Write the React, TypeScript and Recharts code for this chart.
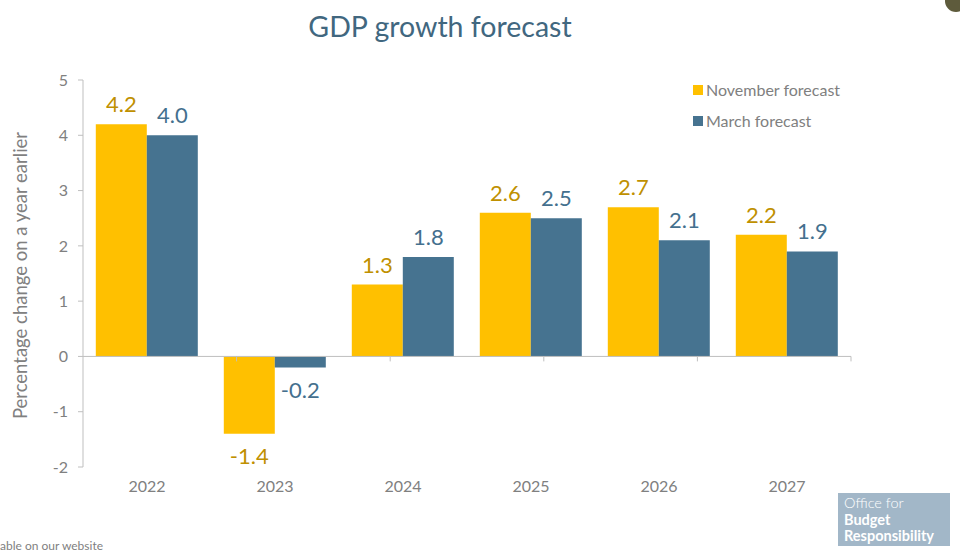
import React from "react";
import {
  BarChart, Bar, XAxis, YAxis, LabelList, ReferenceLine,
} from "recharts";

const years = ["2022", "2023", "2024", "2025", "2026", "2027"];
const novemberForecast = [4.2, -1.4, 1.3, 2.6, 2.7, 2.2];
const marchForecast = [4.0, -0.2, 1.8, 2.5, 2.1, 1.9];
const yTicks = [-2, -1, 0, 1, 2, 3, 4, 5];
const categoryEdges = [1, 2, 3, 4, 5, 6];

const data = years.map((year, i) => ({
  year,
  november: novemberForecast[i],
  march: marchForecast[i],
}));

const YELLOW = "#FFC000";
const YELLOW_TEXT = "#BF9000";
const BLUE = "#467390";
const BLUE_TEXT = "#44708E";
const AXIS = "#BFBFBF";
const GREY_TEXT = "#808080";
const FONT = "Lato, 'Open Sans', sans-serif";

const legendItems = [
  { label: "November forecast", color: YELLOW },
  { label: "March forecast", color: BLUE },
];

// value label above positive bars, below negative ones
const valueLabel = (color: string) => (props: any) => {
  const { x, y, width, height, value } = props;
  const top = Math.min(y, y + height);
  const bottom = Math.max(y, y + height);
  const neg = Number(value) < 0;
  return (
    <text
      x={x + width / 2}
      y={neg ? bottom + 13 : top - 12}
      dominantBaseline={neg ? "hanging" : "alphabetic"}
      textAnchor="middle"
      fill={color}
      fontSize={22}
      fontFamily={FONT}
    >
      {Number(value).toFixed(1)}
    </text>
  );
};

export default function App() {
  return (
    <div style={{ position: "absolute", left: 0, top: 0, width: 960, height: 555, background: "#fff", overflow: "hidden", fontFamily: FONT }}>
      <div style={{ position: "absolute", left: 0, width: 880, top: 9, textAlign: "center", fontSize: 28.5, color: "#41677F" }}>
        GDP growth forecast
      </div>
      <div style={{ position: "absolute", left: 945, top: -10, width: 22, height: 22, borderRadius: 11, background: "#5E5B3C" }} />

      <BarChart
        width={960}
        height={555}
        data={data}
        margin={{ top: 80, right: 109, left: 0, bottom: 48 }}
        barCategoryGap="10%"
        barGap={0}
      >
        <XAxis
          dataKey="year"
          axisLine={false}
          tickLine={false}
          tickSize={0}
          tickMargin={14}
          height={40}
          tick={{ fill: GREY_TEXT, fontSize: 16, fontFamily: FONT }}
        />
        <XAxis xAxisId="edges" type="number" domain={[0, 6]} hide />
        <YAxis
          domain={[-2, 5]}
          ticks={yTicks}
          width={83}
          axisLine={{ stroke: AXIS }}
          tickLine={{ stroke: AXIS }}
          tickSize={5}
          tickMargin={10}
          tick={{ fill: GREY_TEXT, fontSize: 16, fontFamily: FONT }}
          label={({ viewBox }: any) => (
            <text
              x={20}
              y={viewBox.y + viewBox.height / 2 + 2}
              transform={`rotate(-90, 20, ${viewBox.y + viewBox.height / 2 + 2})`}
              textAnchor="middle"
              dominantBaseline="central"
              fill={GREY_TEXT}
              fontSize={18.5}
              fontFamily={FONT}
            >
              Percentage change on a year earlier
            </text>
          )}
        />
        <ReferenceLine y={0} stroke={AXIS} />
        {categoryEdges.map((e) => (
          <ReferenceLine
            key={e}
            xAxisId="edges"
            stroke={AXIS}
            segment={[{ x: e, y: 0 }, { x: e, y: -0.09 }]}
          />
        ))}
        <Bar dataKey="november" name="November forecast" fill={YELLOW} isAnimationActive={false}>
          <LabelList dataKey="november" content={valueLabel(YELLOW_TEXT)} />
        </Bar>
        <Bar dataKey="march" name="March forecast" fill={BLUE} isAnimationActive={false}>
          <LabelList dataKey="march" content={valueLabel(BLUE_TEXT)} />
        </Bar>
      </BarChart>

      <div style={{ position: "absolute", left: 693, top: 74 }}>
        {legendItems.map((it) => (
          <div key={it.label} style={{ display: "flex", alignItems: "center", height: 31, color: GREY_TEXT, fontSize: 16 }}>
            <span style={{ width: 10, height: 10, background: it.color, marginRight: 3, display: "inline-block" }} />
            {it.label}
          </div>
        ))}
      </div>

      <div style={{ position: "absolute", left: 0, top: 538, fontSize: 12, color: "#7F7F7F" }}>
        able on our website
      </div>
      <div style={{ position: "absolute", left: 838, top: 493, width: 112, height: 53, boxSizing: "border-box", background: "#A2B7C8", color: "#fff", padding: "2px 0 0 6px", fontSize: 14.5, lineHeight: "16.5px", whiteSpace: "nowrap" }}>
        <div style={{ fontWeight: 300 }}>Office for</div>
        <div style={{ fontWeight: 700 }}>Budget</div>
        <div style={{ fontWeight: 700 }}>Responsibility</div>
      </div>
    </div>
  );
}
